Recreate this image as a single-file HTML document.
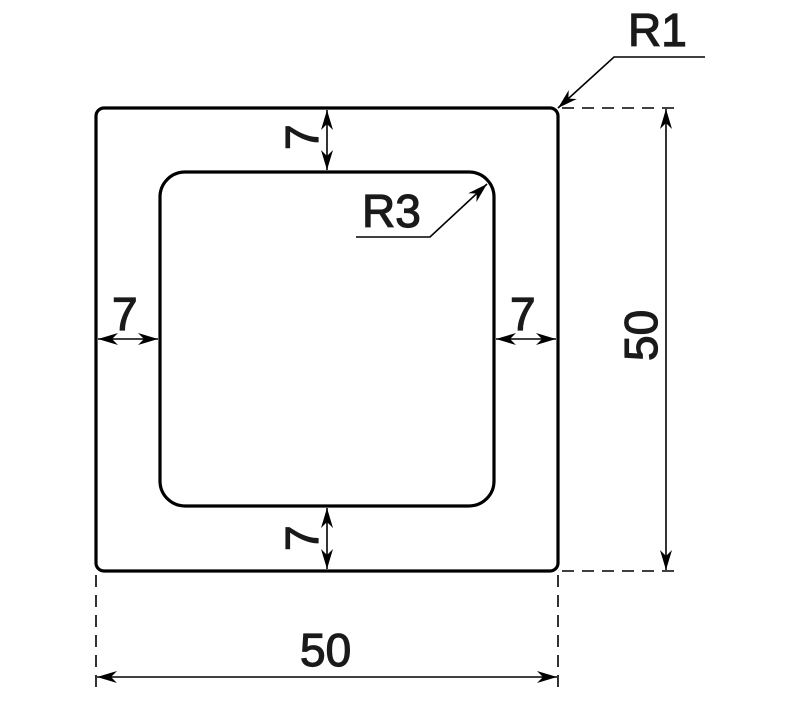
<!DOCTYPE html>
<html><head><style>body{margin:0;background:#fff}svg{display:block}text{font-family:"Liberation Sans",sans-serif;fill:#1a1a1a;stroke:#1a1a1a;stroke-width:1.2}</style></head>
<body>
<svg width="800" height="719" viewBox="0 0 800 719" xmlns="http://www.w3.org/2000/svg">
<defs>
<marker id="a" viewBox="0 0 10 10" refX="10" refY="5" markerWidth="20" markerHeight="20" markerUnits="userSpaceOnUse" orient="auto-start-reverse"><path d="M0,2 L10,5 L0,8 L3,5 Z" fill="#000"/></marker>
</defs>
<g fill="none" stroke="#000">
<rect x="96" y="108" width="462" height="463" rx="8" stroke-width="3.2"/>
<rect x="160" y="172" width="334" height="334" rx="25" stroke-width="3.2"/>
<g stroke-width="1.6" stroke-dasharray="12,8">
<line x1="562" y1="108" x2="680" y2="108"/>
<line x1="562" y1="571" x2="680" y2="571"/>
<line x1="96" y1="575" x2="96" y2="690"/>
<line x1="558" y1="575" x2="558" y2="690"/>
</g>
<g stroke-width="1.6" marker-start="url(#a)" marker-end="url(#a)">
<line x1="666" y1="109" x2="666" y2="570"/>
<line x1="97" y1="677" x2="557" y2="677"/>
<line x1="327" y1="110" x2="327" y2="170"/>
<line x1="327" y1="508" x2="327" y2="569"/>
<line x1="98" y1="339" x2="158" y2="339"/>
<line x1="496" y1="339" x2="556" y2="339"/>
</g>
<g stroke-width="1.6">
<polyline points="705,57 614,57 558,108" marker-end="url(#a)"/>
<polyline points="356,237 430,237 487,184" marker-end="url(#a)"/>
</g>
</g>
<g font-size="46">
<text x="628" y="46">R1</text>
<text x="362" y="227">R3</text>
<text x="300" y="666">50</text>
<text x="112" y="330">7</text>
<text x="510" y="330">7</text>
<text transform="translate(318,150) rotate(-90)">7</text>
<text transform="translate(318,551) rotate(-90)">7</text>
<text transform="translate(657,361) rotate(-90)">50</text>
</g>
</svg>
</body></html>
